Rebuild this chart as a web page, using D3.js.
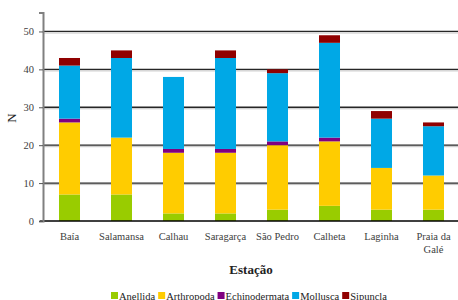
<!DOCTYPE html>
<html>
<head>
<meta charset="utf-8">
<script src="https://d3js.org/d3.v7.min.js"></script>
<style>
  body { margin: 0; background: #fff; }
  svg text { font-family: "Liberation Serif", "DejaVu Serif", serif !important; }
</style>
</head>
<body>
<script>
const stations = ["Baía", "Salamansa", "Calhau", "Saragarça", "São Pedro", "Calheta", "Laginha", "Praia da Galé"];
const groups = ["Anellida", "Arthropoda", "Echinodermata", "Mollusca", "Sipuncla"];
const anellida = [7, 7, 2, 2, 3, 4, 3, 3];
const arthropoda = [19, 15, 16, 16, 17, 17, 11, 9];
const echinodermata = [1, 0, 1, 1, 1, 1, 0, 0];
const mollusca = [14, 21, 19, 24, 18, 25, 13, 13];
const sipuncla = [2, 2, 0, 2, 1, 2, 2, 1];
const yTicks = [0, 10, 20, 30, 40, 50];
const colors = ["#99cc00", "#ffcc00", "#800080", "#00a8e6", "#900000"];

const W = 458, H = 300;
const svg = d3.select("body").append("svg").attr("width", W).attr("height", H);

const rows = stations.map((s, i) => ({
  station: s,
  Anellida: anellida[i], Arthropoda: arthropoda[i], Echinodermata: echinodermata[i],
  Mollusca: mollusca[i], Sipuncla: sipuncla[i]
}));
const stacked = d3.stack().keys(groups)(rows);

const x = d3.scaleBand().domain(stations).range([43.5, 459.5]).paddingInner(0.596).paddingOuter(0.298);
const y = d3.scaleLinear().domain([0, 55]).range([221, 12.5]);
const color = d3.scaleOrdinal().domain(groups).range(colors);

// gridlines with a light shadow
const grid = svg.append("g");
yTicks.filter(d => d > 0).forEach(t => {
  grid.append("line").attr("x1", 43).attr("x2", W).attr("y1", y(t) + 1.5).attr("y2", y(t) + 1.5)
    .attr("stroke", "#c0c0c0").attr("stroke-width", 1);
  grid.append("line").attr("x1", 43).attr("x2", W).attr("y1", y(t)).attr("y2", y(t))
    .attr("stroke", "#262626").attr("stroke-width", 1.3);
});

// bars
svg.append("g").selectAll("g").data(stacked).join("g")
  .attr("fill", d => color(d.key))
  .selectAll("rect").data(d => d).join("rect")
  .attr("x", d => x(d.data.station))
  .attr("width", x.bandwidth())
  .attr("y", d => y(d[1]))
  .attr("height", d => y(d[0]) - y(d[1]));

// baseline
svg.append("line").attr("x1", 40).attr("x2", W).attr("y1", y(0)).attr("y2", y(0))
  .attr("stroke", "#000").attr("stroke-width", 1.5);

// y axis
const yAxis = svg.append("g").attr("transform", "translate(43,0)")
  .call(d3.axisLeft(y).tickValues(yTicks).tickSize(4).tickPadding(5));
yAxis.select(".domain").attr("stroke", "#808080").attr("stroke-width", 2);
yAxis.selectAll(".tick line").attr("stroke", "#555");
yAxis.selectAll(".tick text").attr("font-size", 10.5).attr("fill", "#404040");

// x labels
const xl = svg.append("g");
stations.forEach(s => {
  const parts = s === "Praia da Galé" ? ["Praia da", "Galé"] : [s];
  const cx = x(s) + x.bandwidth() / 2;
  const t = xl.append("text").attr("text-anchor", "middle").attr("font-size", 10.5).attr("fill", "#404040")
    .attr("x", cx).attr("y", 240);
  parts.forEach((p, i) => t.append("tspan").attr("x", cx).attr("dy", i ? 13 : 0).text(p));
});

// axis titles
svg.append("text").attr("x", 251).attr("y", 274).attr("text-anchor", "middle")
  .attr("font-size", 13).attr("font-weight", "bold").attr("fill", "#222").text("Estação");
svg.append("text").attr("transform", "translate(16,118) rotate(-90)").attr("text-anchor", "middle")
  .attr("font-size", 13).attr("fill", "#222").text("N");

// legend
const lg = svg.append("g");
let lx = 111;
groups.forEach((g, i) => {
  lg.append("rect").attr("x", lx).attr("y", 292).attr("width", 7).attr("height", 7).attr("fill", color(g));
  const t = lg.append("text").attr("x", lx + 8).attr("y", 299.5).attr("font-size", 10.5).attr("fill", "#222").text(g);
  lx += 8 + t.node().getComputedTextLength() + 3;
});
</script>
</body>
</html>
